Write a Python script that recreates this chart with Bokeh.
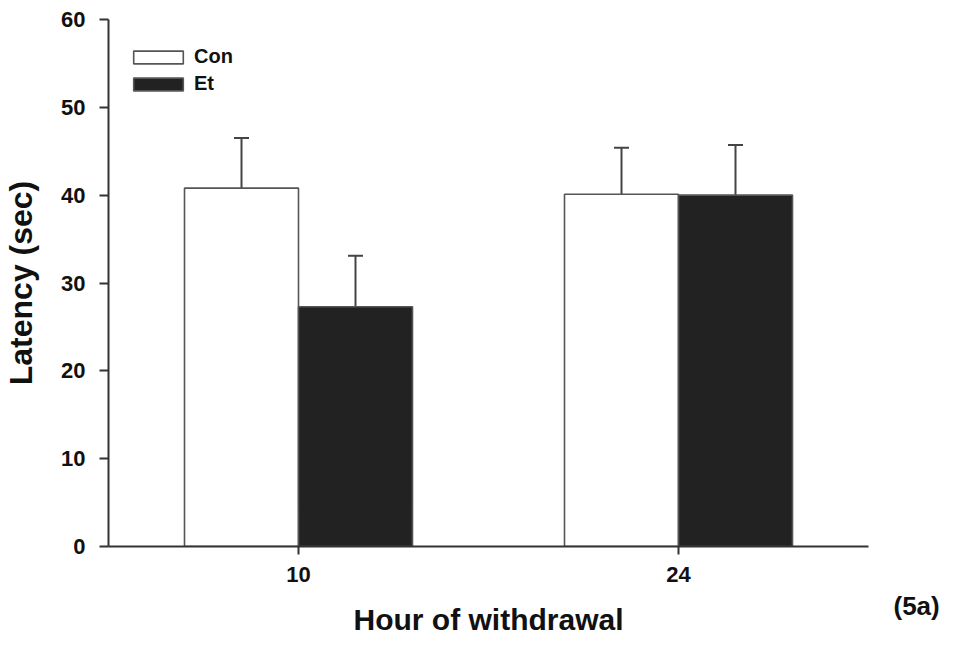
from bokeh.plotting import figure
from bokeh.models import (ColumnDataSource, Range1d, FixedTicker, Whisker, TeeHead,
                          Legend, LegendItem, Label)
from bokeh.embed import file_html
from bokeh.resources import INLINE

# ---- data ----
hours = ["10", "24"]
con_mean = [40.8, 40.1]
con_err = [5.7, 5.3]
et_mean = [27.3, 40.0]
et_err = [5.8, 5.7]
y_ticks = [0, 10, 20, 30, 40, 50, 60]

FONT = "Liberation Sans"
pos = [i + 1 for i in range(len(hours))]
bw = 0.3

con_src = ColumnDataSource(dict(x=[p - bw / 2 for p in pos], top=con_mean,
                                upper=[m + e for m, e in zip(con_mean, con_err)]))
et_src = ColumnDataSource(dict(x=[p + bw / 2 for p in pos], top=et_mean,
                               upper=[m + e for m, e in zip(et_mean, et_err)]))

p = figure(width=946, height=638, output_backend="svg", toolbar_location=None,
           x_range=Range1d(0.5, 2.5), y_range=Range1d(0, 60),
           min_border_left=108, min_border_right=78, min_border_top=19,
           min_border_bottom=92)
p.outline_line_color = None
p.xgrid.visible = False
p.ygrid.visible = False
p.background_fill_color = "white"

for src in (con_src, et_src):
    w = Whisker(source=src, base="x", upper="upper", lower="top",
                line_color="#444444", line_width=2,
                upper_head=TeeHead(size=15, line_color="#444444", line_width=2),
                lower_head=None)
    p.add_layout(w)

r_con = p.vbar(x="x", top="top", width=bw, bottom=0, source=con_src,
               fill_color="white", line_color="#555555", line_width=1.6)
r_et = p.vbar(x="x", top="top", width=bw, bottom=0, source=et_src,
              fill_color="#222222", line_color="#555555", line_width=1.6)

for ax in (p.xaxis[0], p.yaxis[0]):
    ax.axis_line_color = "#333333"
    ax.axis_line_width = 2
    ax.major_tick_line_color = "#333333"
    ax.major_tick_line_width = 2
    ax.minor_tick_line_color = None
    ax.major_tick_in = 0
    ax.major_label_text_font = FONT
    ax.major_label_text_font_style = "bold"
    ax.major_label_text_font_size = "22px"
    ax.major_label_text_color = "#111111"
    ax.axis_label_text_font = FONT
    ax.axis_label_text_font_style = "bold"
    ax.axis_label_text_color = "#111111"

p.xaxis.ticker = FixedTicker(ticks=pos)
p.xaxis.major_label_overrides = {pp: h for pp, h in zip(pos, hours)}
p.xaxis.major_tick_out = 8
p.xaxis.major_label_standoff = 12
p.xaxis.axis_label = "Hour of withdrawal"
p.xaxis.axis_label_text_font_size = "30px"
p.xaxis.axis_label_standoff = 18

p.yaxis.ticker = FixedTicker(ticks=y_ticks)
p.yaxis.major_tick_out = 9
p.yaxis.major_label_standoff = 14
p.yaxis.axis_label = "Latency (sec)"
p.yaxis.axis_label_text_font_size = "32px"
p.yaxis.axis_label_standoff = 19

legend = Legend(items=[LegendItem(label="Con", renderers=[r_con]),
                       LegendItem(label="Et", renderers=[r_et])],
                location=(19, 451), orientation="vertical",
                glyph_width=62, glyph_height=16, label_text_font=FONT,
                label_text_font_size="20px", label_text_font_style="bold",
                label_text_color="#111111",
                label_standoff=5, spacing=4, padding=0, margin=0,
                border_line_alpha=0, background_fill_alpha=0)
p.add_layout(legend)

# panel tag "(5a)" in the right side panel so that it is not clipped to the frame
p.add_layout(Label(x=25, y=-59, x_units="screen", y_units="screen", text="(5a)",
                   text_font=FONT, text_font_style="bold", text_font_size="26px",
                   text_color="#111111", text_baseline="middle"), "right")

open("out.html", "w").write(file_html(p, INLINE))
